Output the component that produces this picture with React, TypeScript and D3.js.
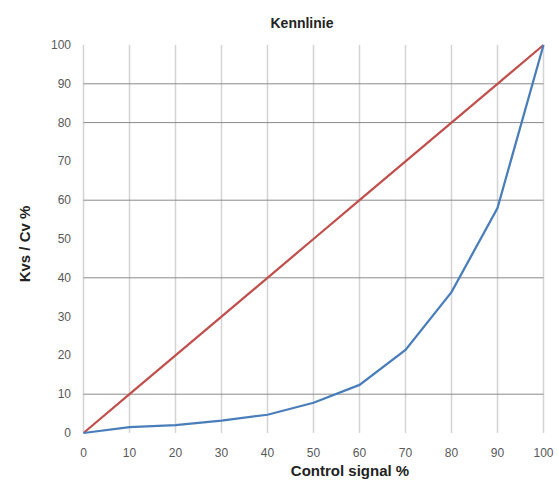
import * as d3 from "d3";

const signal = [0, 10, 20, 30, 40, 50, 60, 70, 80, 90, 100];
const linear = [0, 10, 20, 30, 40, 50, 60, 70, 80, 90, 100];
const equalPct = [0, 1.5, 2, 3.2, 4.7, 7.8, 12.4, 21.4, 36.3, 58, 100];
const xTicks = [0, 10, 20, 30, 40, 50, 60, 70, 80, 90, 100];
const yTicks = [0, 10, 20, 30, 40, 50, 60, 70, 80, 90, 100];
const yGrid = [10, 40, 60, 80, 90];

const W = 559;
const H = 485;
const font = "'Liberation Sans', Arial, sans-serif";

export default function App() {
  const x = d3.scaleLinear().domain([0, 100]).range([83.5, 543.5]);
  const y = d3.scaleLinear().domain([0, 100]).range([433, 45]);

  const line = d3
    .line<number>()
    .x((_, i) => x(signal[i]))
    .y((d) => y(d));

  return (
    <svg
      width={W}
      height={H}
      style={{ position: "absolute", left: 0, top: 0, background: "#fff" }}
    >
      <text
        x={302}
        y={28}
        textAnchor="middle"
        fontFamily={font}
        fontWeight="bold"
        fontSize={14}
        fill="#222"
      >
        Kennlinie
      </text>

      {xTicks.map((t) => (
        <line
          key={"vx" + t}
          x1={x(t)}
          x2={x(t)}
          y1={y(100)}
          y2={y(0)}
          stroke="#d4d4d4"
          strokeWidth={1.5}
        />
      ))}
      {yGrid.map((t) => (
        <line
          key={"hy" + t}
          x1={x(0)}
          x2={x(100)}
          y1={y(t)}
          y2={y(t)}
          stroke="#8a8a8a"
          strokeWidth={1}
        />
      ))}

      <path d={line(linear) ?? ""} fill="none" stroke="#c0504d" strokeWidth={2.25} />
      <path d={line(equalPct) ?? ""} fill="none" stroke="#4a7ebb" strokeWidth={2.25} />

      {yTicks.map((t) => (
        <text
          key={"yl" + t}
          x={71}
          y={y(t) + 4}
          textAnchor="end"
          fontFamily={font}
          fontSize={12}
          fill="#595959"
        >
          {t}
        </text>
      ))}
      {xTicks.map((t) => (
        <text
          key={"xl" + t}
          x={x(t)}
          y={457}
          textAnchor="middle"
          fontFamily={font}
          fontSize={12}
          fill="#595959"
        >
          {t}
        </text>
      ))}

      <text
        x={350}
        y={476}
        textAnchor="middle"
        fontFamily={font}
        fontWeight="bold"
        fontSize={15}
        fill="#222"
      >
        Control signal %
      </text>
      <text
        transform={`translate(30,244) rotate(-90)`}
        textAnchor="middle"
        fontFamily={font}
        fontWeight="bold"
        fontSize={15}
        fill="#222"
      >
        Kvs / Cv %
      </text>
    </svg>
  );
}
